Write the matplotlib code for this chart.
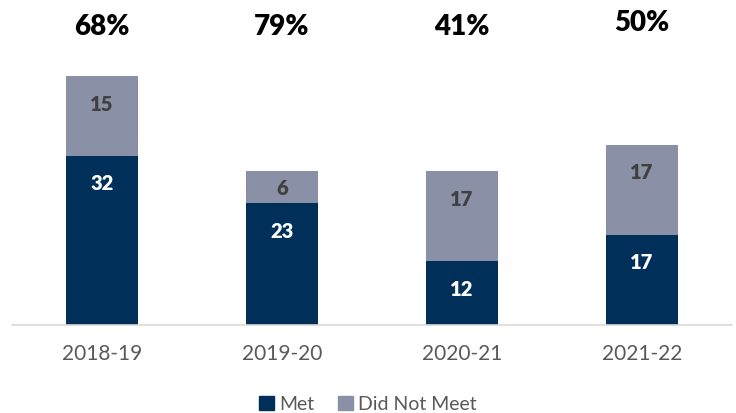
import matplotlib
matplotlib.use("Agg")
import matplotlib.pyplot as plt
from matplotlib.transforms import blended_transform_factory
from matplotlib.patches import Patch

categories = ["2018-19", "2019-20", "2020-21", "2021-22"]
met = [32, 23, 12, 17]
did_not_meet = [15, 6, 17, 17]
pct_labels = ["68%", "79%", "41%", "50%"]

navy = "#00305A"
gray = "#8A91A6"

plt.rcParams['font.family'] = ['Lato', 'DejaVu Sans']

fig = plt.figure(figsize=(7.36, 4.14), dpi=100)
ax = fig.add_axes([12/736, 1-326/414, 720/736, (326-40)/414])

x = list(range(len(categories)))
w = 0.4
ax.bar(x, met, width=w, color=navy, zorder=2)
ax.bar(x, did_not_meet, width=w, bottom=met, color=gray, zorder=2)

ax.set_xlim(-0.5, len(categories) - 0.5)
ax.set_ylim(0, 54)

off = 5.1
for i in x:
    yv = met[i] - off if met[i] > 2 * off else met[i] / 2
    ax.text(i, yv, str(met[i]), ha='center', va='center', color='white',
            fontsize=14.5, fontweight='heavy')
    top2 = met[i] + did_not_meet[i]
    yv2 = top2 - off if did_not_meet[i] > 2 * off else met[i] + did_not_meet[i] / 2
    ax.text(i, yv2, str(did_not_meet[i]), ha='center', va='center', color='#404040',
            fontsize=14.5, fontweight='heavy')

tr = blended_transform_factory(ax.transData, fig.transFigure)
pct_y = [27, 27, 27, 23]
for i, p in enumerate(pct_labels):
    ax.text(i, 1 - pct_y[i]/414, p, transform=tr, ha='center', va='center',
            fontsize=20, fontweight='heavy', color='black')

for s in ['top', 'right', 'left']:
    ax.spines[s].set_visible(False)
ax.spines['bottom'].set_color('#D9D9D9')
ax.spines['bottom'].set_linewidth(1.2)
ax.set_yticks([])
ax.set_xticks(x)
ax.set_xticklabels(categories, fontsize=15, color='#595959')
ax.tick_params(axis='x', length=0, pad=13)

handles = [Patch(color=navy, label='Met'), Patch(color=gray, label='Did Not Meet')]
fig.legend(handles=handles, loc='center', bbox_to_anchor=(0.5, 1 - 405/414), ncol=2,
           frameon=False, fontsize=14, handlelength=0.75, handleheight=0.75,
           handletextpad=0.3, columnspacing=1.2, labelcolor='#595959')

fig.savefig("out.png", dpi=100)
